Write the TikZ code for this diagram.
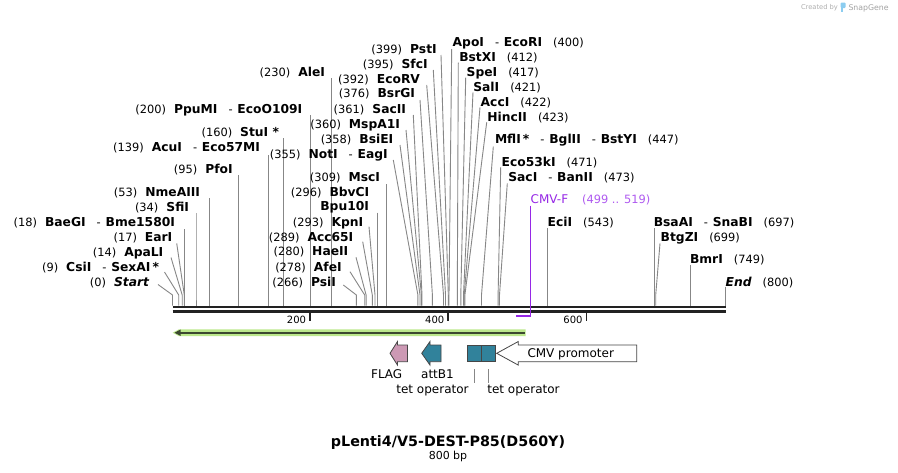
\documentclass[tikz,border=0pt]{standalone}
\usepackage{fontspec}
\setmainfont{DejaVu Sans}
\definecolor{cutgray}{RGB}{135,135,135}
\definecolor{bbcol}{RGB}{34,34,34}
\definecolor{primer}{RGB}{150,40,230}
\definecolor{primerlt}{RGB}{175,90,240}
\definecolor{greenhl}{RGB}{188,232,140}
\definecolor{greendk}{RGB}{60,72,48}
\definecolor{flagpink}{RGB}{204,153,180}
\definecolor{teal}{RGB}{49,130,155}
\definecolor{outl}{RGB}{70,70,70}
\definecolor{wmgray}{RGB}{175,175,175}
\definecolor{wmblue}{RGB}{140,205,240}
\newcommand\enzN[1]{{\fontsize{12.3}{14}\selectfont\bfseries #1}}
\newcommand\enzP[1]{{\fontsize{11.4}{14}\selectfont #1}}
\newcommand\enzD{\hspace{11pt}\enzP{-}\hspace{4.8pt}}
\newcommand\gapL{\hspace{8pt}}
\newcommand\gapR{\hspace{11pt}}
\newcommand\enz[8]{%
  \node[lbl,anchor=#2] (#1) at (#3,#4) {#8};
  \coordinate (#1-s) at (#5,#6);
  \coordinate (#1-b) at (#7,295);
  \coordinate (#1-e) at (#7,305.5);
  \draw[cut] (#1-s) -- (#1-b) -- (#1-e);}
\begin{document}
\begin{tikzpicture}[x=1pt,y=-1pt,
  lbl/.style={inner sep=0pt,outer sep=0pt},
  cut/.style={draw=cutgray,line width=0.9pt},
  bb/.style={draw=bbcol,line width=2.7pt},
  tickmark/.style={draw=bbcol,line width=1.6pt},
  ticklbl/.style={lbl,anchor=base east,font=\fontsize{10}{12}\selectfont},
  feat/.style={draw=outl,line width=0.8pt},
  featlbl/.style={lbl,anchor=base,font=\fontsize{12}{14}\selectfont},
  featline/.style={draw=cutgray,line width=0.9pt}]
\fill[white] (0,0) rectangle (898,472);
\useasboundingbox (0,0) rectangle (898,472);

% watermark
\node[lbl,anchor=base west,text=wmgray,font=\fontsize{6.7}{8}\selectfont] (wm1) at (801,9.5) {Created by};
\fill[wmblue,rounded corners=1pt] (840.5,2.5) rectangle (845.5,8);
\fill[wmblue] (840.5,6) rectangle (842.5,12);
\node[lbl,anchor=base west,text=wmgray!115,font=\fontsize{7.8}{9}\selectfont] (wm2) at (848.5,10) {SnapGene};

% backbone
\coordinate (bbL1) at (172.5,307);
\coordinate (bbR1) at (725.5,307);
\coordinate (bbL2) at (172.5,311.3);
\coordinate (bbR2) at (725.5,311.3);
\draw[bb] (bbL1) -- (bbR1);
\draw[bb] (bbL2) -- (bbR2);

% ticks
\coordinate (t200a) at (310,312.5); \coordinate (t200b) at (310,320.5);
\coordinate (t400a) at (448,312.5); \coordinate (t400b) at (448,320.5);
\coordinate (t600a) at (586.3,312.5); \coordinate (t600b) at (586.3,320.5);
\draw[tickmark] (t200a) -- (t200b);
\draw[tickmark] (t400a) -- (t400b);
\draw[tickmark] (t600a) -- (t600b);
\node[ticklbl] (l200) at (306,323.3) {200};
\node[ticklbl] (l400) at (444.3,323.3) {400};
\node[ticklbl] (l600) at (582.5,323.3) {600};

% left-side labels
\enz{s0}{base east}{149}{286}{158}{284.5}{172.5}{\enzP{(0)}\gapL\enzN{\itshape Start}}
\enz{s9}{base east}{159}{271}{164.5}{272}{178.7}{\enzP{(9)}\gapL\enzN{CsiI}\enzD\enzN{SexAI\,*}}
\enz{s14}{base east}{163.3}{256}{171}{257.5}{182.2}{\enzP{(14)}\gapL\enzN{ApaLI}}
\enz{s17}{base east}{172.3}{241.6}{176.7}{243.3}{184.3}{\enzP{(17)}\gapL\enzN{EarI}}
\enz{s18}{base east}{175}{226}{184.9}{229}{184.9}{\enzP{(18)}\gapL\enzN{BaeGI}\enzD\enzN{Bme1580I}}
\enz{s34}{base east}{189}{211.6}{196}{213.3}{196}{\enzP{(34)}\gapL\enzN{SfiI}}
\enz{s53}{base east}{200}{196.6}{209.1}{198.3}{209.1}{\enzP{(53)}\gapL\enzN{NmeAIII}}
\enz{s95}{base east}{232.7}{173.3}{238.2}{175}{238.2}{\enzP{(95)}\gapL\enzN{PfoI}}
\enz{s139}{base east}{260}{151}{268.6}{155}{268.6}{\enzP{(139)}\gapL\enzN{AcuI}\enzD\enzN{Eco57MI}}
\enz{s160}{base east}{279}{136}{283.1}{138.3}{283.1}{\enzP{(160)}\gapL\enzN{StuI *}}
\enz{s200}{base east}{302.3}{113.3}{310.75}{115}{310.75}{\enzP{(200)}\gapL\enzN{PpuMI}\enzD\enzN{EcoO109I}}
\enz{s230}{base east}{325}{76.6}{331.5}{78.3}{331.5}{\enzP{(230)}\gapL\enzN{AleI}}
\enz{s399}{base east}{436.7}{53.3}{441}{55}{448.3}{\enzP{(399)}\gapL\enzN{PstI}}
\enz{s395}{base east}{427.7}{68.3}{433.3}{70}{445.5}{\enzP{(395)}\gapL\enzN{SfcI}}
\enz{s392}{base east}{420}{83.3}{426.7}{85}{443.5}{\enzP{(392)}\gapL\enzN{EcoRV}}
\enz{s376}{base east}{415}{97.6}{420}{100}{432.4}{\enzP{(376)}\gapL\enzN{BsrGI}}
\enz{s361}{base east}{406}{113.3}{413.3}{115}{422}{\enzP{(361)}\gapL\enzN{SacII}}
\enz{s360}{base east}{400}{128.3}{406}{130}{421.4}{\enzP{(360)}\gapL\enzN{MspA1I}}
\enz{s358}{base east}{393.3}{143.3}{400}{145}{420}{\enzP{(358)}\gapL\enzN{BsiEI}}
\enz{s355}{base east}{387.7}{158.3}{393.3}{160}{417.9}{\enzP{(355)}\gapL\enzN{NotI}\enzD\enzN{EagI}}
\enz{s309}{base east}{380}{181}{386.1}{184}{386.1}{\enzP{(309)}\gapL\enzN{MscI}}
\node[lbl,anchor=base east] (s296a) at (369.3,196) {\enzP{(296)}\gapL\enzN{BbvCI}};
\enz{s296}{base east}{369}{210.3}{377.1}{212.7}{377.1}{\enzN{Bpu10I}}
\enz{s293}{base east}{363.3}{226}{369}{226.7}{375}{\enzP{(293)}\gapL\enzN{KpnI}}
\enz{s289}{base east}{353.3}{241}{362.7}{241.7}{372.3}{\enzP{(289)}\gapL\enzN{Acc65I}}
\enz{s280}{base east}{348.3}{255.3}{356}{257.3}{366.1}{\enzP{(280)}\gapL\enzN{HaeII}}
\enz{s278}{base east}{341.7}{271}{350}{271.7}{364.7}{\enzP{(278)}\gapL\enzN{AfeI}}
\enz{s266}{base east}{336}{286}{343.3}{285}{356.4}{\enzP{(266)}\gapL\enzN{PsiI}}

% right-side labels
\enz{r400}{base west}{452.7}{46.6}{451.7}{49}{449}{\enzN{ApoI}\enzD\enzN{EcoRI}\gapR\enzP{(400)}}
\enz{r412}{base west}{459.3}{61}{458.3}{62.7}{457.3}{\enzN{BstXI}\gapR\enzP{(412)}}
\enz{r417}{base west}{466.7}{76}{465.7}{77.7}{460.8}{\enzN{SpeI}\gapR\enzP{(417)}}
\enz{r421}{base west}{473.3}{91}{473}{92.3}{463.5}{\enzN{SalI}\gapR\enzP{(421)}}
\enz{r422}{base west}{480.7}{106}{480}{107.3}{464.2}{\enzN{AccI}\gapR\enzP{(422)}}
\enz{r423}{base west}{487.3}{121}{486.7}{122.3}{464.9}{\enzN{HincII}\gapR\enzP{(423)}}
\enz{r447}{base west}{495}{143.3}{493.3}{146.7}{481.5}{\enzN{MflI\,*}\enzD\enzN{BglII}\enzD\enzN{BstYI}\gapR\enzP{(447)}}
\enz{r471}{base west}{501.7}{166.6}{500.7}{167.3}{498.1}{\enzN{Eco53kI}\gapR\enzP{(471)}}
\enz{r473}{base west}{508.3}{181}{507.3}{183.3}{499.5}{\enzN{SacI}\enzD\enzN{BanII}\gapR\enzP{(473)}}
\enz{r543}{base west}{547.7}{226.6}{547.8}{228.3}{547.8}{\enzN{EciI}\gapR\enzP{(543)}}
\enz{r697}{base west}{653.8}{226.6}{654.3}{228.3}{654.3}{\enzN{BsaAI}\enzD\enzN{SnaBI}\gapR\enzP{(697)}}
\enz{r699}{base west}{660.7}{241.6}{660}{243.3}{655.7}{\enzN{BtgZI}\gapR\enzP{(699)}}
\enz{r749}{base west}{690}{263.3}{690.2}{265}{690.2}{\enzN{BmrI}\gapR\enzP{(749)}}
\enz{r800}{base west}{725.7}{286}{725.5}{286.7}{725.5}{\enzN{\itshape End}\gapR\enzP{(800)}}

% primer CMV-F
\node[lbl,anchor=base west,text=primer] (cmvf) at (530.7,203.3) {\fontsize{12}{14}\selectfont CMV-F\hspace{14pt}{\color{primerlt}\enzP{(499 .. 519)}}};
\coordinate (cmvf-s) at (530.7,205.5);
\coordinate (cmvf-b) at (530.7,316);
\coordinate (cmvf-e) at (516.3,316);
\draw[draw=primer,line width=1.5pt] (cmvf-s) -- (cmvf-b) -- (cmvf-e);

% green arrow feature
\fill[greenhl] (525.7,329.3) -- (179,329.3) -- (172.7,332.7) -- (179,336.1) -- (525.7,336.1) -- cycle;
\coordinate (ga-r) at (524.5,332.7);
\coordinate (ga-l) at (179,332.7);
\draw[draw=greendk,line width=2pt] (ga-r) -- (ga-l);
\fill[greendk] (174.5,332.7) -- (180.5,329.5) -- (180.5,335.9) -- cycle;

% features
\draw[feat,fill=flagpink] (390,353.3) -- (397.5,341.5) -- (397.5,345) -- (407.5,345) -- (407.5,361.7) -- (397.5,361.7) -- (397.5,365.1) -- cycle;
\draw[feat,fill=teal] (421.7,353.3) -- (430,341.5) -- (430,345) -- (441,345) -- (441,361.7) -- (430,361.7) -- (430,365.1) -- cycle;
\node[feat,fill=teal,minimum width=13.7pt,minimum height=16.7pt,inner sep=0pt] (tet1) at (474.2,353.3) {};
\node[feat,fill=teal,minimum width=14pt,minimum height=16.7pt,inner sep=0pt] (tet2) at (488.7,353.3) {};
\draw[feat,fill=white] (496.7,353.3) -- (518.3,341.5) -- (518.3,345) -- (636.7,345) -- (636.7,361.7) -- (518.3,361.7) -- (518.3,365.1) -- cycle;
\node[lbl,anchor=base west,font=\fontsize{12}{14}\selectfont] (cmvp) at (527.5,357.3) {CMV promoter};

\node[featlbl] (flag) at (386.7,378.5) {FLAG};
\node[featlbl] (attb) at (437.5,378.5) {attB1};
\node[featlbl] (tetl1) at (432.5,393.5) {tet operator};
\node[featlbl] (tetl2) at (523.5,393.5) {tet operator};
\coordinate (tl1a) at (474.2,369); \coordinate (tl1b) at (474.2,383);
\coordinate (tl2a) at (488.9,369); \coordinate (tl2b) at (488.9,383);
\draw[featline] (tl1a) -- (tl1b);
\draw[featline] (tl2a) -- (tl2b);

% title
\node[lbl,anchor=base,font=\fontsize{14.3}{16}\selectfont\bfseries] (title) at (448,446.7) {pLenti4/V5-DEST-P85(D560Y)};
\node[lbl,anchor=base,font=\fontsize{11}{13}\selectfont] (size) at (448,459.3) {800 bp};
\end{tikzpicture}
\end{document}
